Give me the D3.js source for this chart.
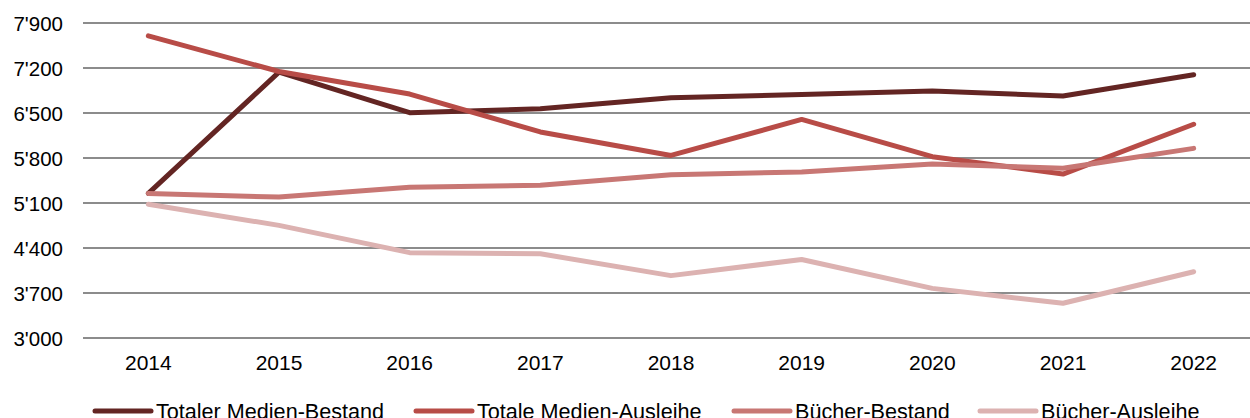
<!DOCTYPE html>
<html>
<head>
<meta charset="utf-8">
<script src="https://cdn.jsdelivr.net/npm/d3@7"></script>
<style>
  body { margin: 0; background: #fff; }
  svg { display: block; font-family: "Liberation Sans", Arial, sans-serif; }
</style>
</head>
<body>
<svg id="chart"></svg>
<script>
let years = ["2014", "2015", "2016", "2017", "2018", "2019", "2020", "2021", "2022"];
let yTicks = [3000, 3700, 4400, 5100, 5800, 6500, 7200, 7900];

let seriesNames = ["Totaler Medien-Bestand", "Totale Medien-Ausleihe", "Bücher-Bestand", "Bücher-Ausleihe"];
let medienBestand = [5250, 7135, 6505, 6565, 6736, 6788, 6842, 6765, 7095];
let medienAusleihe = [7700, 7145, 6795, 6205, 5840, 6400, 5820, 5550, 6325];
let buecherBestand = [5248, 5192, 5346, 5375, 5540, 5582, 5705, 5640, 5950];
let buecherAusleihe = [5080, 4752, 4328, 4310, 3970, 4222, 3772, 3540, 4030];
let colors = ["#632523", "#b84c47", "#c87774", "#dcb2b1"];

let width = 1250,
    height = 418;

let svg = d3.select("#chart").attr("width", width).attr("height", height);

let x = d3.scaleBand().domain(years).range([83, 1259]).padding(0);
let y = d3.scaleLinear().domain([3000, 7900]).range([338, 23]);

// gitterlinien
svg.append("g")
    .selectAll("line")
    .data(yTicks)
    .enter().append("line")
    .attr("x1", 83)
    .attr("x2", width)
    .attr("y1", d => y(d))
    .attr("y2", d => y(d))
    .attr("stroke", "#8c8c8c")
    .attr("stroke-width", 2);

// y achse
let fmt = d => d3.format(",")(d).replace(/,/g, "'");
let yAxis = svg.append("g")
    .attr("transform", "translate(63,1)")
    .call(d3.axisLeft(y).tickValues(yTicks).tickFormat(fmt).tickSize(0).tickPadding(0));
yAxis.select(".domain").remove();
yAxis.selectAll("text")
    .attr("font-size", 20.5)
    .attr("fill", "#000")
    .attr("font-family", "Liberation Sans, Arial, sans-serif");

// x achse
let xAxis = svg.append("g")
    .attr("transform", "translate(0,349)")
    .call(d3.axisBottom(x).tickSize(0).tickPadding(6));
xAxis.select(".domain").remove();
xAxis.selectAll("text")
    .attr("font-size", 21)
    .attr("fill", "#000")
    .attr("font-family", "Liberation Sans, Arial, sans-serif");

let allSeries = [medienBestand, medienAusleihe, buecherBestand, buecherAusleihe];

let line = d3.line()
    .x((d, i) => x(years[i]) + x.bandwidth() / 2)
    .y(d => y(d));

svg.append("g")
    .selectAll("path")
    .data(allSeries)
    .enter().append("path")
    .attr("d", d => line(d))
    .attr("fill", "none")
    .attr("stroke", (d, i) => colors[i])
    .attr("stroke-width", 5)
    .attr("stroke-linejoin", "round")
    .attr("stroke-linecap", "round");

// legende
let legendX = [95, 416, 734, 980];
let legend = svg.append("g")
    .selectAll("g")
    .data(seriesNames)
    .enter().append("g")
    .attr("transform", (d, i) => "translate(" + legendX[i] + ",411)");

legend.append("line")
    .attr("x1", 0)
    .attr("x2", 56)
    .attr("stroke", (d, i) => colors[i])
    .attr("stroke-width", 5)
    .attr("stroke-linecap", "round");

legend.append("text")
    .attr("x", 61)
    .attr("y", 7.5)
    .attr("font-size", 21.6)
    .attr("fill", "#000")
    .text(d => d);
</script>
</body>
</html>
